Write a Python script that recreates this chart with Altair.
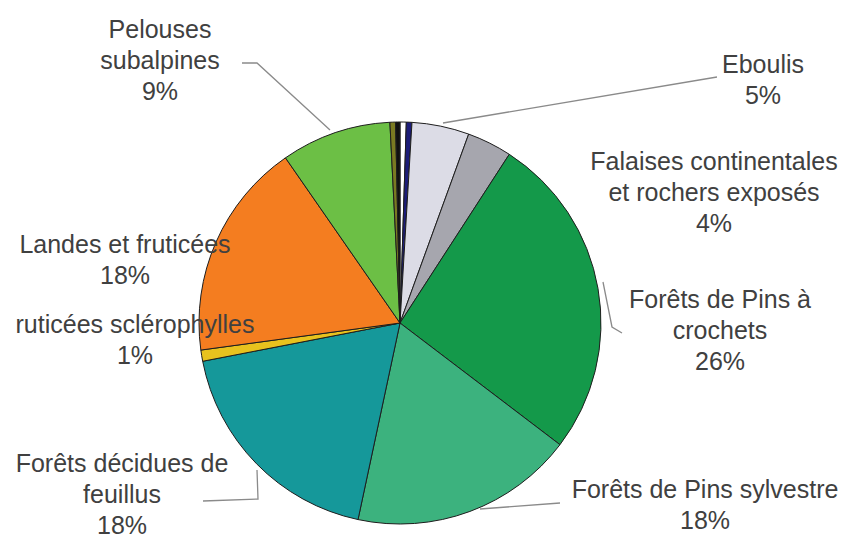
import altair as alt
import pandas as pd

# ---- data ----
categories = [
    "blanc", "bleu", "Eboulis", "Falaises continentales et rochers exposés",
    "Forêts de Pins à crochets", "Forêts de Pins sylvestre",
    "Forêts décidues de feuillus", "Fruticées sclérophylles",
    "Landes et fruticées", "Pelouses subalpines", "olive", "noir",
]
values = [0.5, 0.45, 4.6, 3.6, 26.2, 18.0, 18.6, 0.9, 17.5, 8.85, 0.45, 0.35]
colors = [
    "#ffffff", "#1c1c78", "#dcdce6", "#a6a6ae", "#14994a", "#3cb27e",
    "#15989a", "#e8c21e", "#f47d20", "#6cbf45", "#7a7a22", "#101010",
]

label_texts = [
    "Pelouses\nsubalpines\n9%",
    "Eboulis\n5%",
    "Falaises continentales\net rochers exposés\n4%",
    "Forêts de Pins à\ncrochets\n26%",
    "Forêts de Pins sylvestre\n18%",
    "Forêts décidues de\nfeuillus\n18%",
    "ruticées sclérophylles\n1%",
    "Landes et fruticées\n18%",
]
# layout (chart pixel coordinates, first line of each label)
label_x = [152, 755, 706, 712, 697, 114, 127, 117]
label_y = [22, 57, 154, 292, 482, 456, 317, 237]

leader_ids = [0, 0, 0, 1, 1, 2, 2, 2, 3, 3, 4, 4, 4]
leader_x = [234, 249, 322, 435, 709, 595, 604, 614, 472, 552, 195, 250, 249]
leader_y = [55, 55, 122, 115, 69, 274, 319, 325, 501, 495, 493, 491, 462]

CX, CY, R = 392, 315, 201

pie_df = pd.DataFrame({"cat": categories, "val": values, "idx": range(len(values))})
lab_df = pd.DataFrame({"t": label_texts, "x": label_x, "y": label_y})
lead_df = pd.DataFrame({"g": leader_ids, "x": leader_x, "y": leader_y,
                        "o": range(len(leader_x))})

pie = alt.Chart(pie_df).mark_arc(
    outerRadius=R, stroke="#1e1e1e", strokeWidth=1
).encode(
    theta=alt.Theta("val:Q", stack=True),
    order=alt.Order("idx:Q"),
    color=alt.Color("cat:N", scale=alt.Scale(domain=categories, range=colors), legend=None),
    x=alt.value(CX),
    y=alt.value(CY),
)

leaders = alt.Chart(lead_df).mark_line(color="#8a8a8a", strokeWidth=1.3).encode(
    x=alt.X("x:Q", scale=None, axis=None),
    y=alt.Y("y:Q", scale=None, axis=None),
    detail="g:N",
    order="o:Q",
)

labels = alt.Chart(lab_df).mark_text(
    font="Liberation Sans", fontSize=25, color="#404040",
    lineBreak="\n", lineHeight=31, align="center", baseline="middle",
).encode(
    x=alt.X("x:Q", scale=None, axis=None),
    y=alt.Y("y:Q", scale=None, axis=None),
    text="t:N",
)

chart = alt.layer(pie, leaders, labels).properties(
    width=834, height=534, padding=0,
    autosize=alt.AutoSizeParams(type="none"),
).configure_view(stroke=None)

chart.save("out.html", embed_options={"renderer": "svg", "actions": False})
